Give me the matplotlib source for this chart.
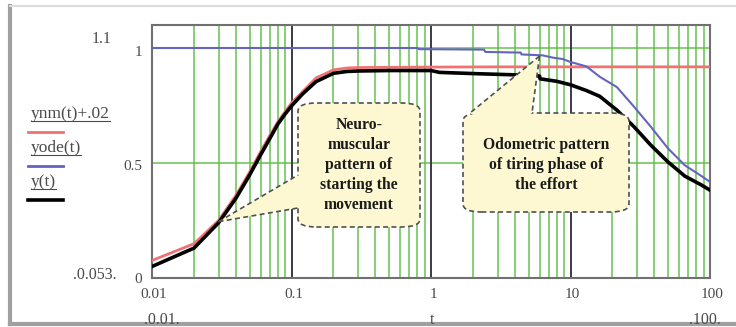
import matplotlib
matplotlib.use("Agg")
import matplotlib.pyplot as plt
import matplotlib.transforms as mtrans
from matplotlib.patches import FancyBboxPatch, Polygon
from matplotlib.lines import Line2D

# ---------------- data ----------------
t_red = [0.01, 0.02, 0.03, 0.04, 0.05, 0.06, 0.07, 0.08, 0.09, 0.1, 0.12, 0.15,
         0.2, 0.25, 0.3, 0.5, 1.0, 3.0, 10.0, 100.0]
ynm_plus = [0.076, 0.149, 0.25, 0.36, 0.46, 0.549, 0.62, 0.68, 0.723, 0.761, 0.81,
            0.87, 0.905, 0.913, 0.915, 0.916, 0.917, 0.918, 0.918, 0.918]

t_blue = [0.01, 0.8, 0.82, 2.4, 2.45, 4.4, 4.45, 6.3, 7.5, 8.8, 9.9, 13.0, 16.2,
          21.5, 28.5, 37.6, 49.9, 66.0, 87.0, 100.0]
yode = [1.0, 1.0, 0.995, 0.993, 0.983, 0.98, 0.972, 0.968, 0.958, 0.952, 0.94,
        0.92, 0.875, 0.83, 0.745, 0.658, 0.564, 0.49, 0.443, 0.418]

t_black = [0.01, 0.02, 0.03, 0.04, 0.05, 0.06, 0.07, 0.08, 0.09, 0.1, 0.12, 0.15,
           0.2, 0.25, 0.3, 0.5, 1.0, 1.15, 2.2, 4.7, 6.0, 6.05, 8.0, 10.0, 13.0,
           16.2, 21.5, 28.5, 37.6, 49.9, 66.0, 87.0, 100.0]
y_total = [0.05, 0.13, 0.24, 0.347, 0.447, 0.535, 0.607, 0.67, 0.713, 0.748, 0.80,
           0.854, 0.89, 0.898, 0.9, 0.902, 0.902, 0.894, 0.888, 0.882, 0.878, 0.866,
           0.855, 0.84, 0.815, 0.79, 0.73, 0.658, 0.578, 0.505, 0.443, 0.404, 0.382]

x_ticks = [0.01, 0.1, 1, 10, 100]
x_ticklabels = ["0.01", "0.1", "1", "10", "100"]
y_ticks = [0, 0.5, 1]
y_ticklabels = ["0", "0.5", "1"]
legend_labels = ["ynm(t)+.02", "yode(t)", "y(t)"]
callout1 = "Neuro-\nmuscular\npattern of\nstarting the\nmovement"
callout2 = "Odometric pattern\nof tiring phase of\nthe effort"
tip1 = (0.03, 0.245)
tip2 = (6.0, 0.965)

# ---------------- figure ----------------
W, H = 736, 327
fig = plt.figure(figsize=(W / 100, H / 100), dpi=100)
fig.patch.set_facecolor("white")

def fx(px):
    return px / W

def fy(py):
    return 1 - py / H

ax = fig.add_axes([fx(152), fy(278), fx(710) - fx(152), fy(25) - fy(278)])
ax.set_xscale("log")
ax.set_xlim(0.01, 100)
ax.set_ylim(0, 1.1)

serif = ["Liberation Serif", "DejaVu Serif"]
tcol = "#4a4a4a"

# grid
green = "#5cbf45"
for dec in [0.01, 0.1, 1, 10]:
    for m in range(2, 10):
        ax.axvline(dec * m, color=green, lw=1.3, alpha=0.8, zorder=1)
for yv in [0.5, 1.0]:
    ax.axhline(yv, color=green, lw=1.3, alpha=0.8, zorder=1)
for dec in [0.1, 1, 10]:
    ax.axvline(dec, color="#3a3a48", lw=1.4, zorder=1.5)

for s in ax.spines.values():
    s.set_color("#707070")
    s.set_linewidth(1.5)

ax.set_xticks(x_ticks)
ax.set_xticklabels(x_ticklabels)
ax.set_yticks(y_ticks)
ax.set_yticklabels(y_ticklabels)
ax.minorticks_off()
ax.tick_params(axis="x", length=0, labelsize=11, labelcolor=tcol, pad=7)
ax.tick_params(axis="y", length=0, labelsize=11, labelcolor=tcol, pad=7)
for lab in ax.get_xticklabels():
    lab.set_family(serif)
    lab.set_transform(lab.get_transform() +
                      mtrans.ScaledTranslation(2 / 100, 0, fig.dpi_scale_trans))
y_offsets = [0, 2, 3]
for lab, off in zip(ax.get_yticklabels(), y_offsets):
    lab.set_family(serif)
    lab.set_transform(lab.get_transform() +
                      mtrans.ScaledTranslation(0, -off / 100, fig.dpi_scale_trans))

# curves
ax.plot(t_red, ynm_plus, color="#f07272", lw=2.0, zorder=3)
ax.plot(t_blue, yode, color="#6464c0", lw=1.5, zorder=3)
ax.plot(t_black, y_total, color="black", lw=2.6, zorder=4)

# extra Mathcad labels
for (px, py, s) in [(102, 39, "1.1"), (95, 275, ".0.053."), (162, 320, ".0.01."),
                    (432, 320, "t"), (705, 320, ".100.")]:
    fig.text(fx(px), fy(py), s, ha="center", va="center", fontsize=11.5,
             color=tcol, family=serif)

# legend
leg_colors = ["#f07272", "#6464c0", "black"]
leg_lw = [2.0, 2.0, 2.6]
text_y = [114, 148, 182]
line_y = [132, 166, 200]
leg_texts = []
for lab, c, lw, ty, ly in zip(legend_labels, leg_colors, leg_lw, text_y, line_y):
    txt = fig.text(fx(31), fy(ty), lab, ha="left", va="center", fontsize=12.5,
                   color=tcol, family=serif)
    leg_texts.append(txt)
    fig.add_artist(Line2D([fx(28), fx(63)], [fy(ly), fy(ly)], color=c, lw=lw))
fig.canvas.draw()
for t in leg_texts:
    bb = t.get_window_extent()
    yline = bb.y0 + 1.5
    fig.add_artist(Line2D([bb.x0 / W, bb.x1 / W], [yline / H, yline / H],
                          color=tcol, lw=0.8))

# outer frame bevel
fig.add_artist(Line2D([fx(10), fx(10)], [fy(6), fy(324)], color="#a0a0a0", lw=3))
fig.add_artist(Line2D([fx(10), fx(736)], [fy(324), fy(324)], color="#a0a0a0", lw=3))
fig.add_artist(Line2D([fx(10), fx(736)], [fy(6), fy(6)], color="#dcdcdc", lw=1.5))

# callouts
fill = "#fdf8d2"
edge = "#505050"

def callout(x0, y0, x1, y1, b1, b2, tip, text, side, text_dy=0):
    box = FancyBboxPatch((fx(x0), fy(y1)), fx(x1) - fx(x0), fy(y0) - fy(y1),
                         boxstyle="round,pad=0,rounding_size=0.025",
                         transform=fig.transFigure, facecolor=fill,
                         edgecolor=edge, lw=1.2, ls=(0, (3, 2)), zorder=10)
    fig.add_artist(box)
    tx, ty = ax.transData.transform(tip)
    tipf = (tx / W, ty / H)
    if side == "left":
        p1 = (fx(x0), fy(b1))
        p2 = (fx(x0), fy(b2))
        q1 = (fx(x0) + 0.003, fy(b1) - 0.005)
        q2 = (fx(x0) + 0.003, fy(b2) + 0.005)
    else:
        p1 = (fx(b1), fy(y0))
        p2 = (fx(b2), fy(y0))
        q1 = (fx(b1) + 0.004, fy(y0) - 0.006)
        q2 = (fx(b2) - 0.004, fy(y0) - 0.006)
    poly = Polygon([tipf, p1, q1, q2, p2], closed=True, transform=fig.transFigure,
                   facecolor=fill, edgecolor="none", zorder=10.5)
    fig.add_artist(poly)
    for p in (p1, p2):
        fig.add_artist(Line2D([tipf[0], p[0]], [tipf[1], p[1]], color=edge,
                              lw=1.2, ls=(0, (3, 2)), zorder=11))
    fig.text((fx(x0) + fx(x1)) / 2, fy((y0 + y1) / 2 + text_dy), text,
             ha="center", va="center", fontsize=11.3, fontweight="bold",
             family=serif, color="#1a1a1a", linespacing=1.33, zorder=12)

callout(298, 103, 420, 227, 175, 208, tip1, callout1, "left")
callout(463, 113, 629, 212, 470, 532, tip2, callout2, "top", text_dy=2.5)

fig.savefig("out.png", dpi=100, facecolor="white")
